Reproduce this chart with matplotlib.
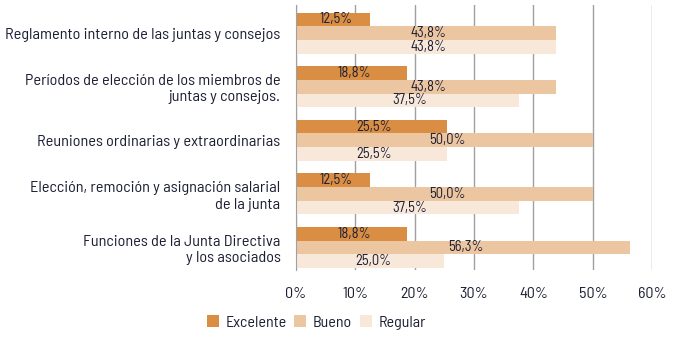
import matplotlib
matplotlib.use("Agg")
import matplotlib.pyplot as plt
from matplotlib import font_manager
import numpy as np

categories = [
    "Reglamento interno de las juntas y consejos",
    "Períodos de elección de los miembros de\njuntas y consejos.",
    "Reuniones ordinarias y extraordinarias",
    "Elección, remoción y asignación salarial\nde la junta",
    "Funciones de la Junta Directiva\ny los asociados",
]
series_names = ["Excelente", "Bueno", "Regular"]
excelente = [12.5, 18.8, 25.5, 12.5, 18.8]
bueno = [43.8, 43.8, 50.0, 50.0, 56.3]
regular = [43.8, 37.5, 25.5, 37.5, 25.0]
x_ticks = [0, 10, 20, 30, 40, 50, 60]

colors = ["#D98E43", "#ECC6A1", "#F8E8DA"]
text_color = "#1c1f33"

installed = {f.name for f in font_manager.fontManager.ttflist}
fam = next((f for f in ["Barlow Semi Condensed", "Roboto Condensed", "Liberation Sans Narrow"]
            if f in installed), "DejaVu Sans")
plt.rcParams["font.family"] = [fam, "DejaVu Sans"]

fig = plt.figure(figsize=(6.83, 3.43), dpi=100)
ax = fig.add_axes([0.433, 0.213, 0.522, 0.773])

n = len(categories)
y = np.arange(n)[::-1].astype(float)
h = 0.256
for i, vals in enumerate([excelente, bueno, regular]):
    pos = y + h - i * h
    ax.barh(pos, vals, height=h, color=colors[i], label=series_names[i], zorder=3)
    for p, v in zip(pos, vals):
        ax.text(v / 2 + 0.5, p, f"{v:.1f}%".replace(".", ","), ha="center", va="center",
                fontsize=10.5, color=text_color, zorder=4)

ax.set_xlim(0, 60)
ax.set_ylim(-0.42, n - 0.47)
ax.set_xticks(x_ticks)
ax.set_xticklabels([f"{t}%" for t in x_ticks], fontsize=11.5, color=text_color)
ax.set_yticks(y)
ax.set_yticklabels(categories, fontsize=11.7, color=text_color)
ax.tick_params(axis="y", length=0, pad=11)
ax.tick_params(axis="x", length=0, pad=12)
ax.grid(axis="x", color="#a0a0a0", linewidth=1, zorder=0)
for s in ["top", "right", "bottom"]:
    ax.spines[s].set_visible(False)
ax.spines["left"].set_color("#a0a0a0")
ax.spines["left"].set_zorder(5)

fig.legend(loc="center", bbox_to_anchor=(0.463, 0.06), ncol=3, frameon=False,
           fontsize=11.5, handlelength=0.75, handleheight=0.75, handletextpad=0.4,
           columnspacing=0.5, labelcolor=text_color)

fig.savefig("out.png", dpi=100)
